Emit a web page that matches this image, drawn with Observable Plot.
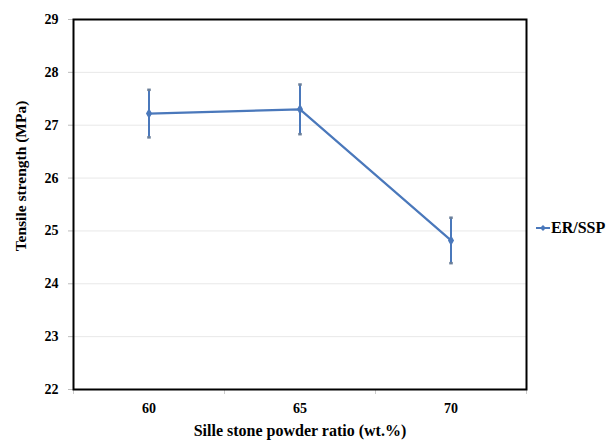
<!DOCTYPE html>
<html>
<head>
<meta charset="utf-8">
<script src="https://cdn.jsdelivr.net/npm/d3@7"></script>
<script src="https://cdn.jsdelivr.net/npm/@observablehq/plot@0.6"></script>
<style>
  html, body { margin: 0; padding: 0; background: #fff; }
  #wrap { position: relative; width: 608px; height: 441px; font-family: "Liberation Serif", serif; font-weight: bold; color: #000; }
  #legend { position: absolute; left: 536px; top: 219px; font-size: 16px; display: flex; align-items: center; }
  #legend svg { margin-right: 1px; }
  .xlabel { position: absolute; left: 0; width: 600px; text-align: center; top: 422px; font-size: 16px; line-height: 18px; }
  .ylabel { position: absolute; left: 21px; top: 176px; font-size: 15.5px; line-height: 18px; white-space: nowrap; transform: translate(-50%, -50%) rotate(-90deg); }
</style>
</head>
<body>
<div id="wrap"></div>
<script>
const ratios = [60, 65, 70];
const strength = [27.22, 27.30, 24.82];
const errors = [0.45, 0.47, 0.43];
const yTicks = [22, 23, 24, 25, 26, 27, 28, 29];
const seriesName = "ER/SSP";
const xTitle = "Sille stone powder ratio (wt.%)";
const yTitle = "Tensile strength (MPa)";
const color = "#4a78bb";

const data = ratios.map((r, i) => ({ r, v: strength[i], e: errors[i] }));
const step = ratios[1] - ratios[0];
const bounds = [...ratios.map(r => r - step / 2), ratios[ratios.length - 1] + step / 2];

const capSymbol = {
  draw(ctx, size) {
    const w = Math.sqrt(size) / 2;
    ctx.moveTo(-w, 0);
    ctx.lineTo(w, 0);
  }
};

const chart = Plot.plot({
  width: 608,
  height: 441,
  marginLeft: 73,
  marginRight: 82,
  marginTop: 19,
  marginBottom: 52,
  style: { fontFamily: "Liberation Serif, serif", fontWeight: "bold", fontSize: "13.5px", color: "#000", background: "#fff" },
  x: { domain: [bounds[0], bounds[bounds.length - 1]] },
  y: { domain: [22, 29] },
  marks: [
    Plot.gridY(yTicks, { stroke: "#e8e8e8", strokeOpacity: 1 }),
    Plot.axisY(yTicks, { tickSize: 5, stroke: "#bbb", tickPadding: 10, fontSize: 14, tickFormat: d => String(d), label: null }),
    Plot.axisX(bounds, { tickSize: 5, stroke: "#ccc", text: null, label: null }),
    Plot.axisX(ratios, { tickSize: 0, tickPadding: 14, fontSize: 14, tickFormat: d => String(d), label: null }),
    Plot.ruleX(data, { x: "r", y1: d => d.v - d.e, y2: d => d.v + d.e, stroke: color, strokeWidth: 2 }),
    Plot.dot(data, { x: "r", y: d => d.v - d.e, symbol: capSymbol, r: 2, stroke: "#6b7f99", strokeWidth: 2.5 }),
    Plot.dot(data, { x: "r", y: d => d.v + d.e, symbol: capSymbol, r: 2, stroke: "#6b7f99", strokeWidth: 2.5 }),
    Plot.line(data, { x: "r", y: "v", stroke: color, strokeWidth: 2.2 }),
    Plot.dot(data, { x: "r", y: "v", symbol: "diamond", r: 3.2, fill: color, stroke: "none" }),
    Plot.frame({ stroke: "#000", strokeWidth: 2 })
  ]
});

const wrap = document.getElementById("wrap");
wrap.appendChild(chart);

const xl = document.createElement("div");
xl.className = "xlabel";
xl.textContent = xTitle;
wrap.appendChild(xl);

const yl = document.createElement("div");
yl.className = "ylabel";
yl.textContent = yTitle;
wrap.appendChild(yl);

const legend = document.createElement("div");
legend.id = "legend";
legend.innerHTML = `<svg width="14" height="10"><line x1="0" y1="5" x2="14" y2="5" stroke="${color}" stroke-width="2"/><path d="M7,2 L10,5 L7,8 L4,5 Z" fill="${color}"/></svg><span>${seriesName}</span>`;
wrap.appendChild(legend);
</script>
</body>
</html>
